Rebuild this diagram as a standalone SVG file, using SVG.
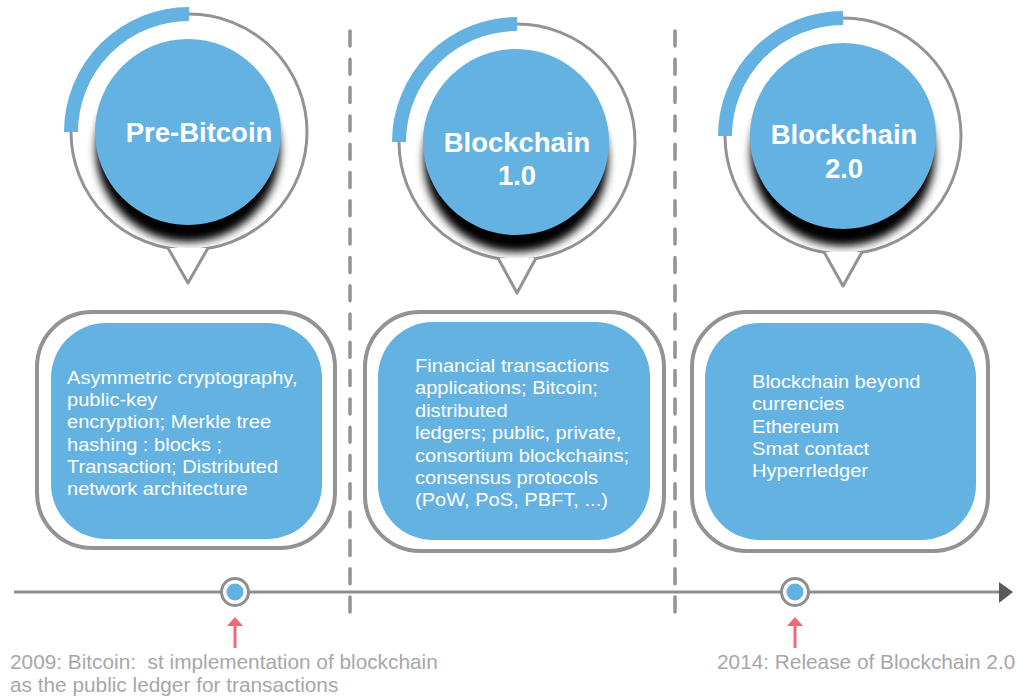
<svg xmlns="http://www.w3.org/2000/svg" width="1019" height="700" viewBox="0 0 1019 700">
<defs>
<style>
.ring{fill:none;stroke:#939396;stroke-width:3}
.arc{fill:none;stroke:#63b2e1;stroke-width:14;stroke-linecap:butt}
.core{fill:#63b2e1}
.ptr{fill:#ffffff;stroke:#939396;stroke-width:3;stroke-linejoin:round}
.title{font-family:"Liberation Sans",Arial,sans-serif;font-weight:bold;font-size:27.5px;fill:#ffffff;text-anchor:middle}
.outer{fill:#ffffff;stroke:#939396;stroke-width:4}
.inner{fill:#63b2e1}
.body{font-family:"Liberation Sans",Arial,sans-serif;font-size:18.5px;fill:#ffffff}
.dash{stroke:#939396;stroke-width:3.5;stroke-dasharray:15 13.3;stroke-linecap:round;fill:none}
.tl{stroke:#8e8e91;stroke-width:3;fill:none}
.mk{fill:#ffffff;stroke:#8e8e91;stroke-width:3}
.mkin{fill:#63b2e1}
.red{stroke:#ee6a78;stroke-width:3;fill:none}
.redhead{fill:#ee6a78}
.note{font-family:"Liberation Sans",Arial,sans-serif;font-size:20.8px;fill:#a7a7aa}
</style>
<filter id="sh" x="-30%" y="-30%" width="160%" height="160%">
<feGaussianBlur stdDeviation="4"/>
</filter>
</defs>
<rect width="1019" height="700" fill="#ffffff"/>

<g id="separators">
<line class="dash" x1="350" y1="31" x2="350" y2="620"/>
<line class="dash" x1="675" y1="31" x2="675" y2="620"/>
</g>

<g id="connectors">
<line class="tl" x1="14" y1="592" x2="1000" y2="592"/>
<polygon points="999,582 1013,592 999,603" fill="#5a5a5c"/>
<line class="red" x1="235" y1="648" x2="235" y2="624"/>
<polygon class="redhead" points="227,626 235,617 243,626"/>
<line class="red" x1="795" y1="648" x2="795" y2="624"/>
<polygon class="redhead" points="787,626 795,617 803,626"/>
</g>

<g id="bubble-prebitcoin">
<circle class="ring" cx="189" cy="132" r="118"/>
<path class="arc" d="M71,132 A118,118 0 0 1 189,14"/>
<circle cx="188" cy="150" r="92" fill="#000" filter="url(#sh)"/>
<circle class="core" cx="188" cy="132" r="93"/>
<path class="ptr" d="M168,248 L188,283 L208,248"/>
<text class="title" x="199" y="142">Pre-Bitcoin</text>
</g>

<g id="bubble-blockchain1">
<circle class="ring" cx="517" cy="142" r="118"/>
<path class="arc" d="M399,142 A118,118 0 0 1 517,24"/>
<circle cx="516" cy="160" r="92" fill="#000" filter="url(#sh)"/>
<circle class="core" cx="516" cy="142" r="93"/>
<path class="ptr" d="M498,258 L517,293 L536,258"/>
<text class="title" x="517" y="152">Blockchain</text>
<text class="title" x="517" y="185">1.0</text>
</g>

<g id="bubble-blockchain2">
<circle class="ring" cx="843" cy="136" r="118"/>
<path class="arc" d="M725,136 A118,118 0 0 1 843,18"/>
<circle cx="843" cy="154" r="92" fill="#000" filter="url(#sh)"/>
<circle class="core" cx="843" cy="136" r="93"/>
<path class="ptr" d="M824,252 L843,286 L862,252"/>
<text class="title" x="844" y="144">Blockchain</text>
<text class="title" x="844" y="178">2.0</text>
</g>

<g id="box-prebitcoin">
<rect class="outer" x="37" y="312" width="298" height="236" rx="55"/>
<rect class="inner" x="51" y="323" width="271" height="216" rx="55"/>
<text class="body" transform="translate(67,0) scale(1.085,1)">
<tspan x="0" y="384">Asymmetric cryptography,</tspan>
<tspan x="0" y="406.2">public-key</tspan>
<tspan x="0" y="428.4">encryption; Merkle tree</tspan>
<tspan x="0" y="450.6">hashing : blocks ;</tspan>
<tspan x="0" y="472.8">Transaction; Distributed</tspan>
<tspan x="0" y="495">network architecture</tspan>
</text>
</g>

<g id="box-blockchain1">
<rect class="outer" x="365" y="312" width="299" height="239" rx="55"/>
<rect class="inner" x="378" y="322" width="272" height="218" rx="55"/>
<text class="body" transform="translate(415,0) scale(1.085,1)">
<tspan x="0" y="372">Financial transactions</tspan>
<tspan x="0" y="394.4">applications; Bitcoin;</tspan>
<tspan x="0" y="416.8">distributed</tspan>
<tspan x="0" y="439.2">ledgers; public, private,</tspan>
<tspan x="0" y="461.6">consortium blockchains;</tspan>
<tspan x="0" y="484">consensus protocols</tspan>
<tspan x="0" y="506.4">(PoW, PoS, PBFT, ...)</tspan>
</text>
</g>

<g id="box-blockchain2">
<rect class="outer" x="692" y="312" width="296" height="239" rx="55"/>
<rect class="inner" x="705" y="323" width="271" height="217" rx="55"/>
<text class="body" transform="translate(752,0) scale(1.085,1)">
<tspan x="0" y="388">Blockchain beyond</tspan>
<tspan x="0" y="410.3">currencies</tspan>
<tspan x="0" y="432.6">Ethereum</tspan>
<tspan x="0" y="454.9">Smat contact</tspan>
<tspan x="0" y="477.2">Hyperrledger</tspan>
</text>
</g>

<g id="marker-2009">
<circle class="mk" cx="235" cy="592" r="13.5"/>
<circle class="mkin" cx="235" cy="592" r="8.5"/>
<text class="note">
<tspan x="10" y="669">2009: Bitcoin:&#160; st implementation of blockchain</tspan>
<tspan x="10" y="692">as the public ledger for transactions</tspan>
</text>
</g>

<g id="marker-2014">
<circle class="mk" cx="795" cy="592" r="13.5"/>
<circle class="mkin" cx="795" cy="592" r="8.5"/>
<text class="note" x="717" y="669">2014: Release of Blockchain 2.0</text>
</g>
</svg>
